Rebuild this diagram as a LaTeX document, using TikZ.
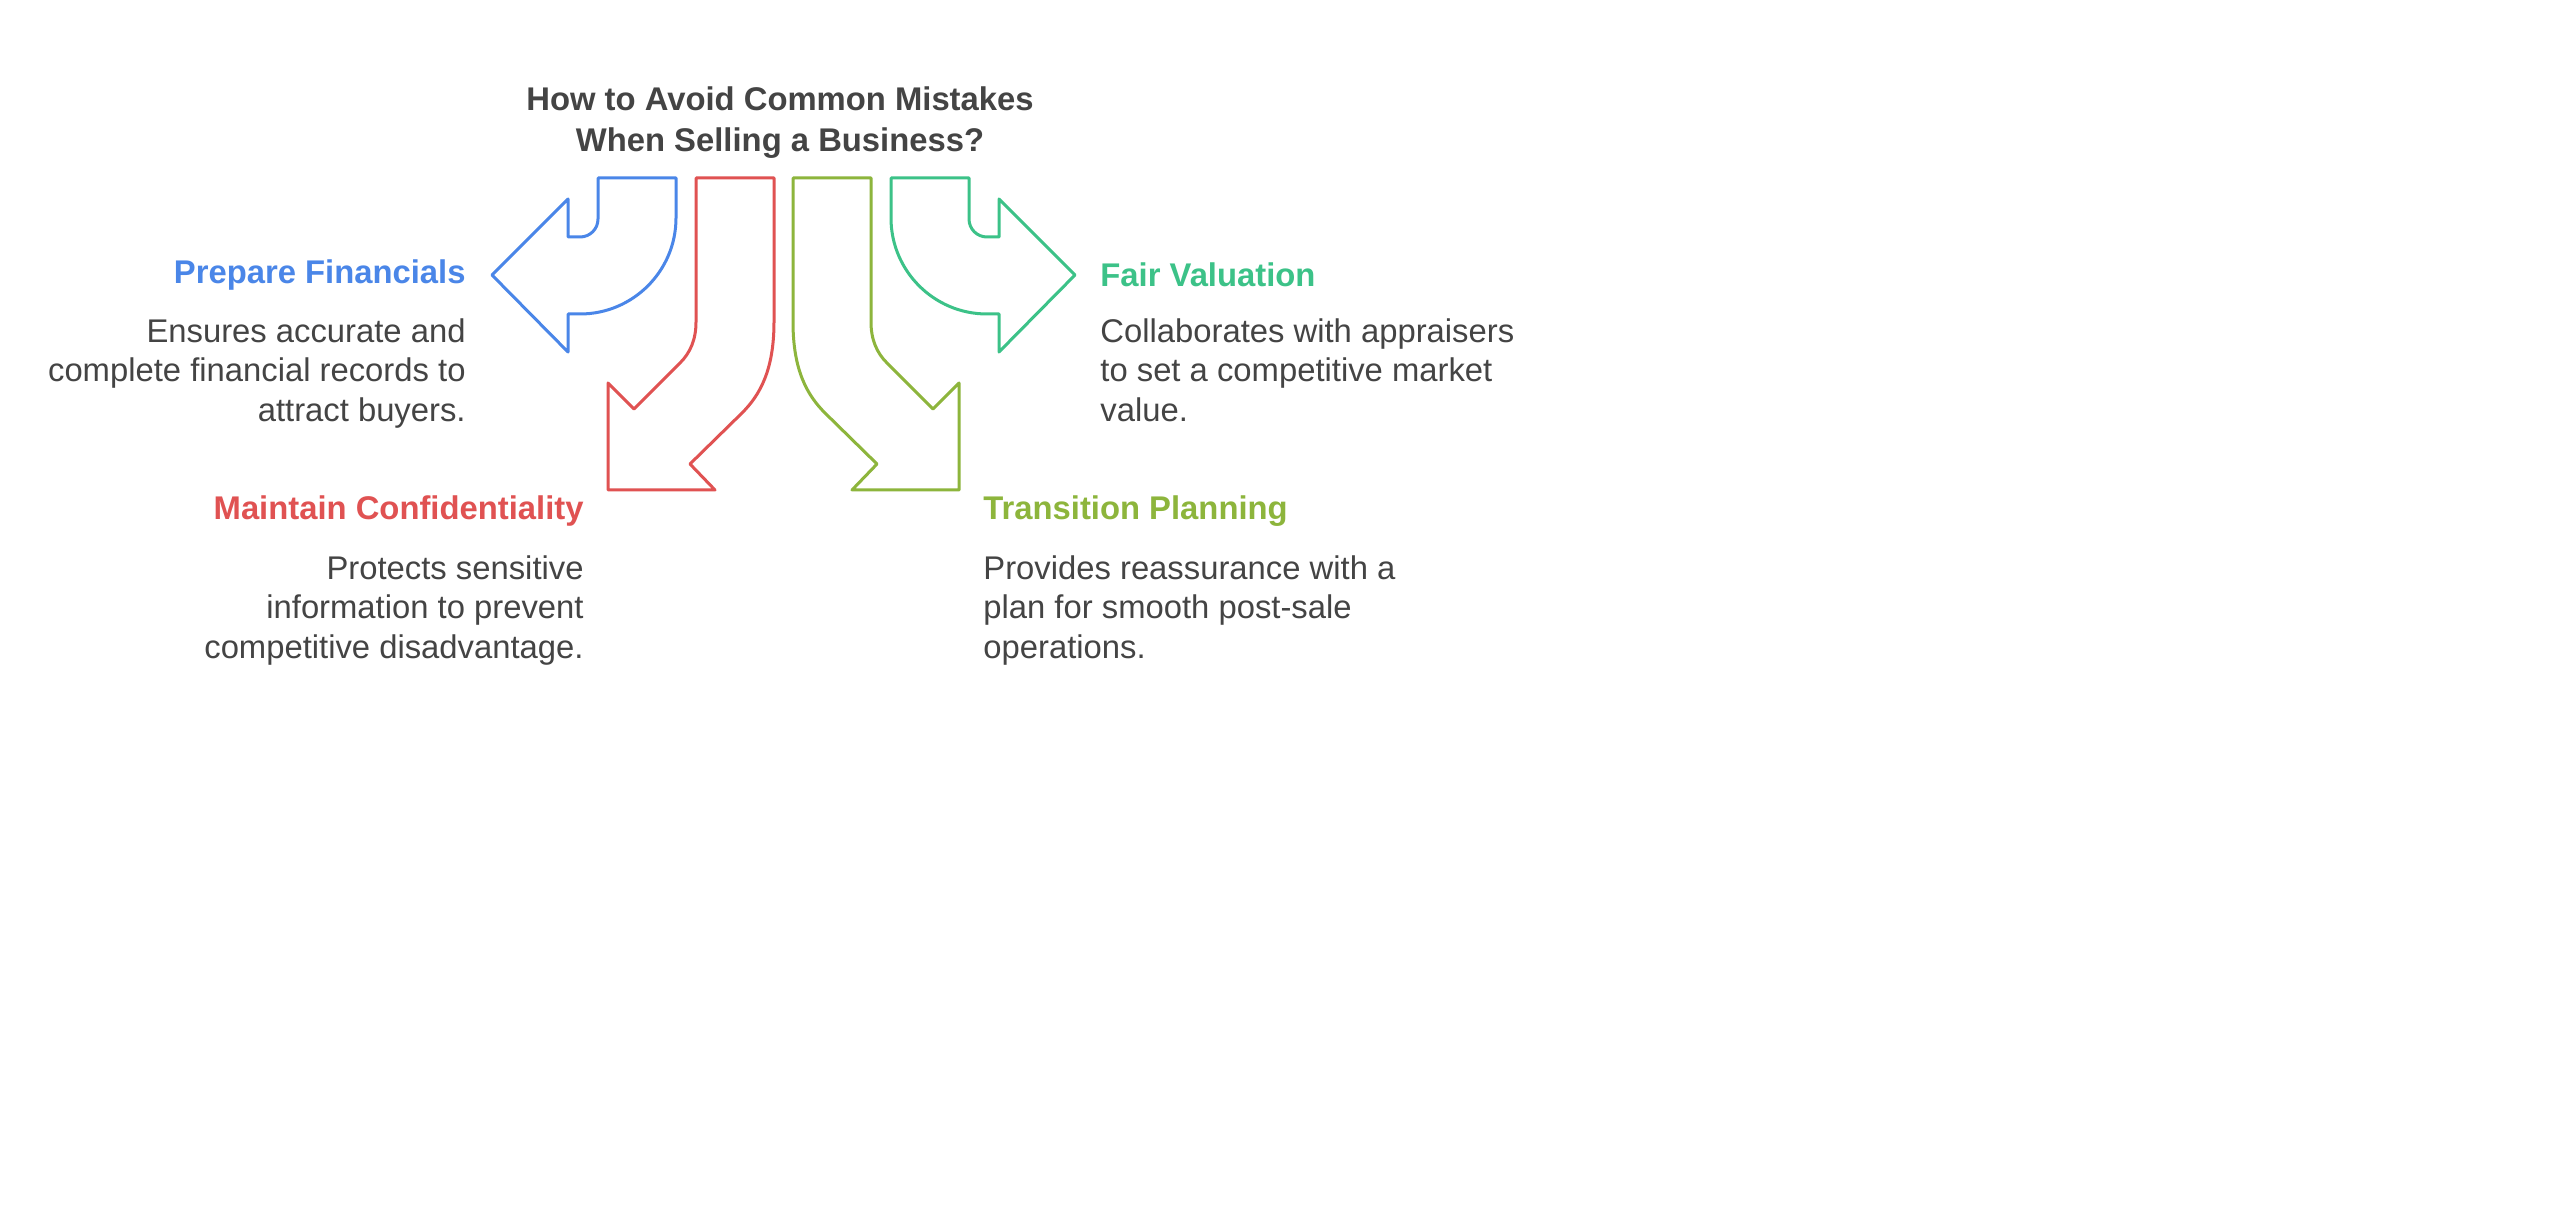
\documentclass[tikz,border=0pt]{standalone}
\usepackage{fontspec}
\setmainfont{Liberation Sans}
\definecolor{cblue}{HTML}{4A86E8}
\definecolor{cred}{HTML}{E05252}
\definecolor{cgreen}{HTML}{8DB53C}
\definecolor{cteal}{HTML}{3CC288}
\definecolor{ctext}{HTML}{444444}
\begin{document}
\begin{tikzpicture}[x=0.5pt,y=-0.5pt,
  shp/.style={line width=1.5pt,line join=round,fill=white,draw=#1},
  head/.style={font=\fontsize{16.4}{19.5}\selectfont\bfseries,inner sep=0pt},
  body/.style={font=\fontsize{16.4}{19.8}\selectfont,text=ctext,inner sep=0pt},
  lft/.style={anchor=north east,align=right},
  rgt/.style={anchor=north west,align=left}]
\fill[white] (0,0) rectangle (2560,1219);
\useasboundingbox (0,0) rectangle (2560,1219);
\node[head,text=ctext,align=center,anchor=north] (title) at (780,86) {How to Avoid Common Mistakes\\[1pt]When Selling a Business?};
% blue
\draw[shp=cblue] (598,178)--(676,178)--(676,218)..controls(676,271)and(633,314)..(580,314)--(568,314)--(568,352)--(492,275)--(568,199)--(568,237)--(580,237)..controls(590,237)and(598,229)..(598,219)--cycle;
% teal
\draw[shp=cteal] (969,178)--(891,178)--(891,218)..controls(891,271)and(934,314)..(987,314)--(999,314)--(999,352)--(1075,275)--(999,199)--(999,237)--(987,237)..controls(977,237)and(969,229)..(969,219)--cycle;
% red
\draw[shp=cred] (696,178)--(774,178)--(774,322)..controls(774,370)and(760,395)..(742,413)--(690,464)--(715,490)--(608,490)--(608,383)--(634,409)--(680,363)..controls(690,353)and(696,340)..(696,322)--cycle;
% green
\draw[shp=cgreen] (871,178)--(793,178)--(793,322)..controls(793,370)and(807,395)..(825,413)--(877,464)--(852,490)--(959,490)--(959,383)--(933,409)--(887,363)..controls(877,353)and(871,340)..(871,322)--cycle;
% texts
\node[head,text=cblue,anchor=east] (h1) at (466,275) {Prepare Financials};
\node[body,lft] (b1) at (466,318) {Ensures accurate and\\complete financial records to\\attract buyers.};
\node[head,text=cred,anchor=east] (h2) at (584,511) {Maintain Confidentiality};
\node[body,lft] (b2) at (584,555) {Protects sensitive\\information to prevent\\competitive disadvantage.};
\node[head,text=cteal,anchor=west] (h3) at (1100,275) {Fair Valuation};
\node[body,rgt] (b3) at (1100,318) {Collaborates with appraisers\\to set a competitive market\\value.};
\node[head,text=cgreen,anchor=west] (h4) at (983,511) {Transition Planning};
\node[body,rgt] (b4) at (983,555) {Provides reassurance with a\\plan for smooth post-sale\\operations.};
\end{tikzpicture}
\end{document}
